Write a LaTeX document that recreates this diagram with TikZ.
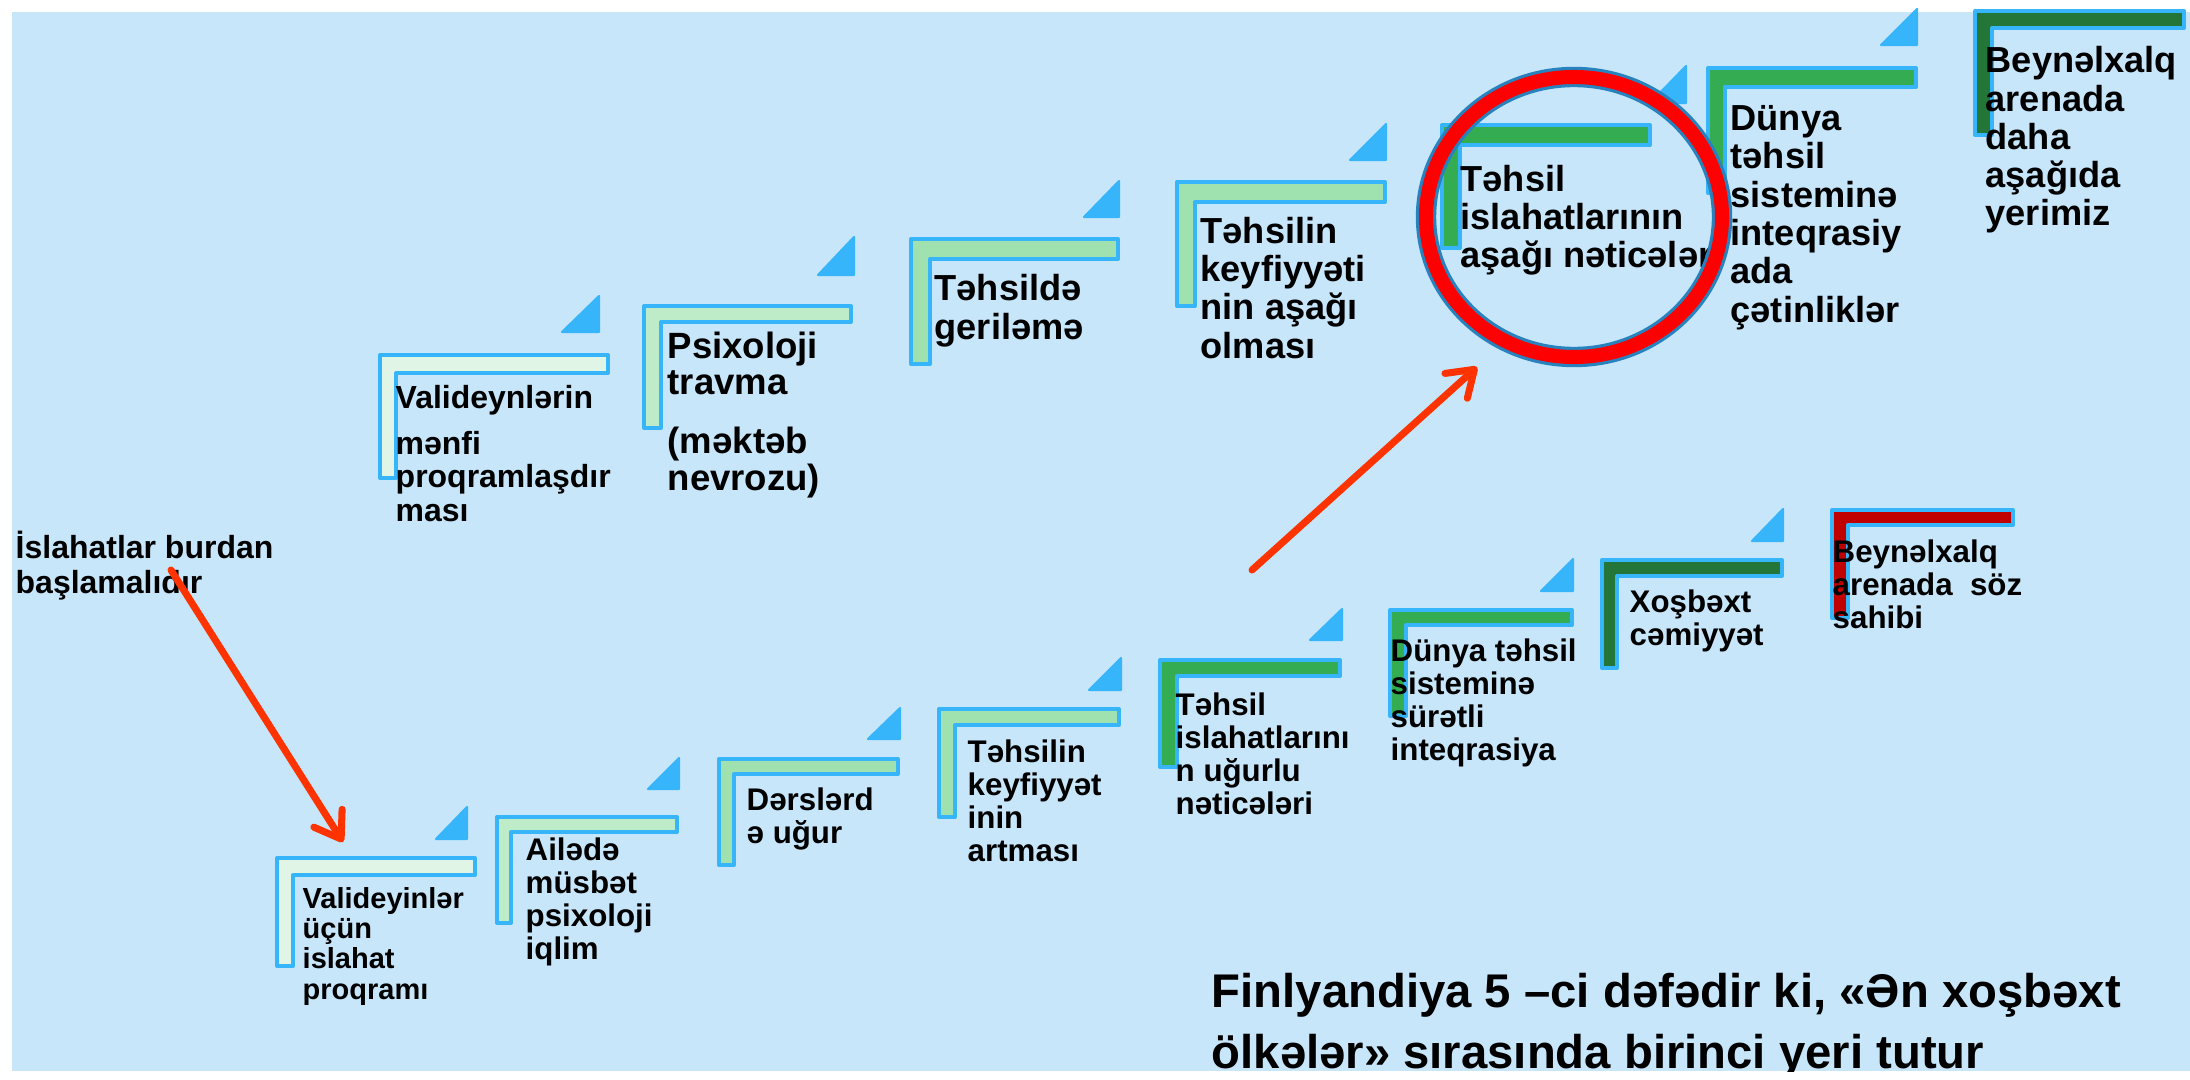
\documentclass[tikz,border=0pt]{standalone}
\usepackage{fontspec}
\setmainfont{Liberation Sans}
\usetikzlibrary{arrows.meta}

\definecolor{bgblue}{RGB}{199,230,250}
\definecolor{edgeblue}{RGB}{54,181,250}
\definecolor{stepA}{RGB}{224,245,230}
\definecolor{stepB}{RGB}{190,235,200}
\definecolor{stepC}{RGB}{159,226,176}
\definecolor{stepD}{RGB}{52,173,82}
\definecolor{stepE}{RGB}{35,118,56}
\definecolor{stepF}{RGB}{192,0,0}
\definecolor{arrowred}{RGB}{255,51,0}
\definecolor{ringblue}{RGB}{40,130,190}
\definecolor{ringred}{RGB}{255,0,0}

\tikzset{
  corner/.style={draw=edgeblue, line width=1.15pt, line join=round},
  tri/.style={fill=edgeblue, draw=edgeblue, line width=0.6pt, line join=round},
  txt/.style={anchor=base west, align=left, inner sep=0pt, text=black},
  txtS/.style={txt, font=\bfseries\fontsize{8.25pt}{8.62pt}\selectfont},
  txtM/.style={txt, font=\bfseries\fontsize{8.9pt}{9.3pt}\selectfont},
  txtL/.style={txt, font=\bfseries\fontsize{10.3pt}{10.9pt}\selectfont},
  pointer/.style={draw=arrowred, line width=2pt, line cap=round,
    -{Straight Barb[length=7pt, width=9.5pt, round]}},
  ring/.style={draw=ringblue, line width=0.9pt, double=ringred, double distance=4pt}
}

\begin{document}
\begin{tikzpicture}[x=0.1mm, y=-0.1mm]
    \useasboundingbox (0,0) rectangle (2190,1079);
    \fill[white] (0,0) rectangle (2190,1079);
    \fill[bgblue] (12,12) rectangle (2190,1071);

    % yuxari pilleler
    \draw[corner, fill=stepA] (380,355) -- (608,355) -- (608,373) -- (396,373) -- (396,478) -- (380,478) -- cycle;
    \draw[corner, fill=stepB] (644,306) -- (851,306) -- (851,322) -- (661,322) -- (661,428) -- (644,428) -- cycle;
    \draw[corner, fill=stepC] (911,239) -- (1118,239) -- (1118,259) -- (930,259) -- (930,364) -- (911,364) -- cycle;
    \draw[corner, fill=stepC] (1177,182) -- (1385,182) -- (1385,202) -- (1195,202) -- (1195,306) -- (1177,306) -- cycle;
    \draw[corner, fill=stepD] (1442,125) -- (1650,125) -- (1650,145) -- (1460,145) -- (1460,248) -- (1442,248) -- cycle;
    \draw[corner, fill=stepD] (1708,68) -- (1916,68) -- (1916,87) -- (1725,87) -- (1725,193) -- (1708,193) -- cycle;
    \draw[corner, fill=stepE] (1975,11) -- (2184,11) -- (2184,28) -- (1992,28) -- (1992,135) -- (1975,135) -- cycle;

    \filldraw[tri] (562,332) -- (599,296) -- (599,332) -- cycle;
    \filldraw[tri] (818,275) -- (854,237) -- (854,275) -- cycle;
    \filldraw[tri] (1084,217) -- (1119,181) -- (1119,217) -- cycle;
    \filldraw[tri] (1350,160) -- (1386,124) -- (1386,160) -- cycle;
    \filldraw[tri] (1650,103) -- (1686,66) -- (1686,103) -- cycle;
    \filldraw[tri] (1881,45) -- (1917,9) -- (1917,45) -- cycle;

    % asagi pilleler
    \draw[corner, fill=stepA] (277,858) -- (475,858) -- (475,875) -- (293,875) -- (293,966) -- (277,966) -- cycle;
    \draw[corner, fill=stepB] (497,817) -- (677,817) -- (677,832) -- (511,832) -- (511,923) -- (497,923) -- cycle;
    \draw[corner, fill=stepC] (719,759) -- (898,759) -- (898,774) -- (734,774) -- (734,865) -- (719,865) -- cycle;
    \draw[corner, fill=stepC] (939,709) -- (1119,709) -- (1119,725) -- (955,725) -- (955,817) -- (939,817) -- cycle;
    \draw[corner, fill=stepD] (1160,660) -- (1340,660) -- (1340,676) -- (1177,676) -- (1177,767) -- (1160,767) -- cycle;
    \draw[corner, fill=stepD] (1390,610) -- (1572,610) -- (1572,625) -- (1406,625) -- (1406,716) -- (1390,716) -- cycle;
    \draw[corner, fill=stepE] (1602,560) -- (1782,560) -- (1782,576) -- (1617,576) -- (1617,668) -- (1602,668) -- cycle;
    \draw[corner, fill=stepF] (1832,510) -- (2013,510) -- (2013,525) -- (1848,525) -- (1848,618) -- (1832,618) -- cycle;

    \filldraw[tri] (436,839) -- (467,807) -- (467,839) -- cycle;
    \filldraw[tri] (648,789) -- (679,758) -- (679,789) -- cycle;
    \filldraw[tri] (868,739) -- (900,708) -- (900,739) -- cycle;
    \filldraw[tri] (1089,690) -- (1121,658) -- (1121,690) -- cycle;
    \filldraw[tri] (1310,640) -- (1342,609) -- (1342,640) -- cycle;
    \filldraw[tri] (1541,591) -- (1573,559) -- (1573,591) -- cycle;
    \filldraw[tri] (1752,541) -- (1783,509) -- (1783,541) -- cycle;

    % yazilar: yuxari (son setrin bazasi)
    \node[txt, font=\bfseries\fontsize{9.1pt}{9.4pt}\selectfont] (parneg) at (395,521) {Valideynlərin\\[3.7pt]mənfi\\proqramlaşdır\\ması};
    \node[txt, font=\bfseries\fontsize{10.4pt}{10.4pt}\selectfont] (trauma) at (667,490) {Psixoloji\\travma\\[6.3pt](məktəb\\nevrozu)};
    \node[txtL] (lagging) at (934,339) {Təhsildə\\geriləmə};
    \node[txtL] (lowqual) at (1200,358) {Təhsilin\\keyfiyyəti\\nin aşağı\\olması};
    \node[txtL] (lowres) at (1460,268) {Təhsil\\islahatlarının\\aşağı nəticələri};
    \node[txtL] (integbad) at (1730,322) {Dünya\\təhsil\\sisteminə\\inteqrasiy\\ada\\çətinliklər};
    \node[txtL] (lowrank) at (1985,226) {Beynəlxalq\\arenada\\daha\\aşağıda\\yerimiz};

    % yazilar: asagi
    \node[txtS] (parprog) at (302,999) {Valideyinlər\\üçün\\islahat\\proqramı};
    \node[txtM] (climate) at (525,959) {Ailədə\\müsbət\\psixoloji\\iqlim};
    \node[txtM] (lessons) at (746,843) {Dərslərd\\ə uğur};
    \node[txtM] (highqual) at (967,861) {Təhsilin\\keyfiyyət\\inin\\artması};
    \node[txtM] (goodres) at (1175,814) {Təhsil\\islahatlarını\\n uğurlu\\nəticələri};
    \node[txtM] (integgood) at (1390,760) {Dünya təhsil\\sisteminə\\sürətli\\inteqrasiya};
    \node[txtM] (happy) at (1629,645) {Xoşbəxt\\cəmiyyət};
    \node[txtM] (voice) at (1832,628) {Beynəlxalq\\arenada\ \ söz\\sahibi};

    \node[txt, font=\bfseries\fontsize{9.1pt}{9.7pt}\selectfont] (start) at (15,593) {İslahatlar burdan\\başlamalıdır};

    \begin{scope}
      \clip (12,12) rectangle (2190,1071);
      \node[txt, font=\bfseries\fontsize{13.45pt}{17.1pt}\selectfont] (finland) at (1211,1068) {Finlyandiya 5 –ci dəfədir ki, «Ən xoşbəxt\\ölkələr» sırasında birinci yeri tutur};
    \end{scope}

    % dairə
    \draw[ring] (1574,217) ellipse [x radius=148, y radius=140];

    % oxlar
    \coordinate (a1from) at (171,570);
    \coordinate (a1to) at (343,842);
    \coordinate (a2from) at (1252,570);
    \coordinate (a2to) at (1477,367);
    \draw[pointer] (a1from) -- (a1to);
    \draw[pointer] (a2from) -- (a2to);

\end{tikzpicture}
\end{document}
